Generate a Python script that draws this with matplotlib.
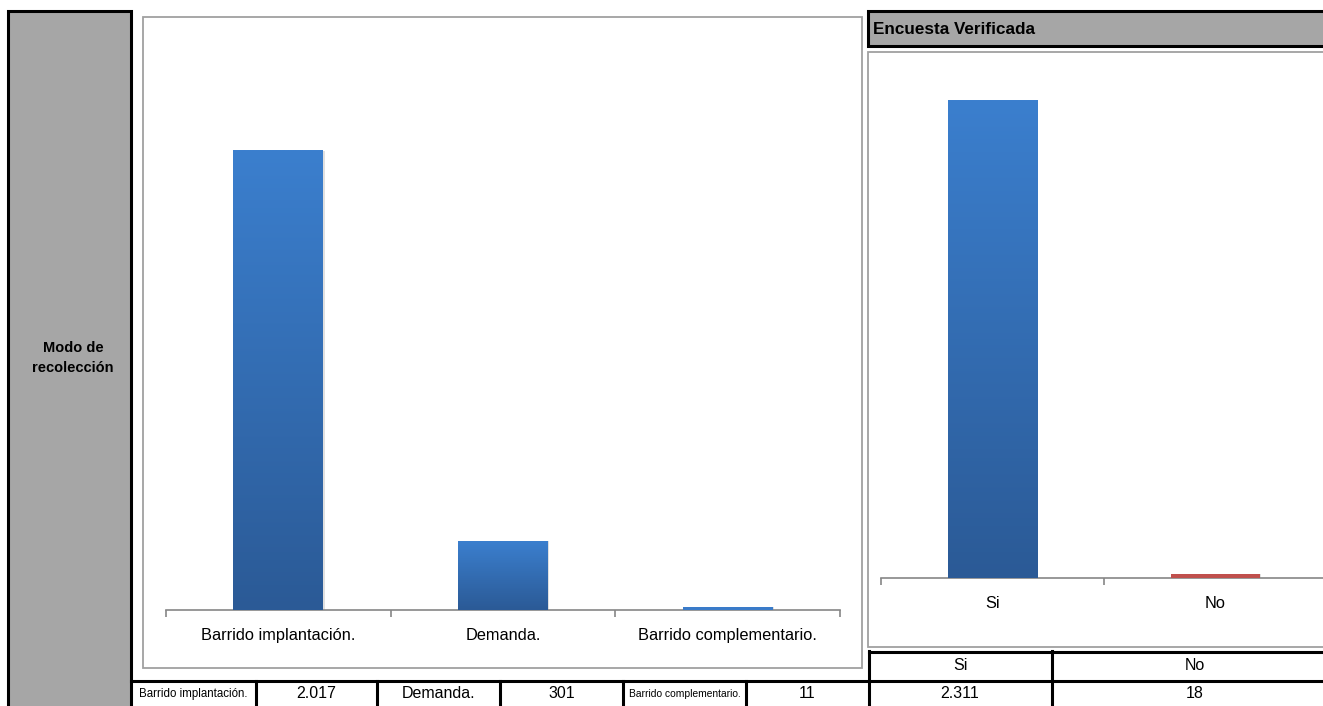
import matplotlib.pyplot as plt
import numpy as np
from matplotlib.patches import Rectangle
from matplotlib.colors import LinearSegmentedColormap

plt.rcParams['font.family'] = ['Liberation Sans', 'DejaVu Sans']

# data
modo_labels = ['Barrido implantación.', 'Demanda.', 'Barrido complementario.']
modo_values = [2017, 301, 11]
modo_table = ['2.017', '301', '11']

verif_labels = ['Si', 'No']
verif_values = [2311, 18]
verif_table = ['2.311', '18']

W, H = 1323, 706
fig = plt.figure(figsize=(W / 100, H / 100), dpi=100)


def fx(x):
    return x / W


def fy(y):
    return 1 - y / H


def box(x0, y0, x1, y1, fc='none', ec='black', lw=2.2, z=1):
    fig.patches.append(Rectangle((fx(x0), fy(y1)), fx(x1) - fx(x0), fy(y0) - fy(y1),
                                 transform=fig.transFigure, facecolor=fc,
                                 edgecolor=ec, linewidth=lw, zorder=z))


def hline(y, x0, x1, lw=2.2):
    fig.add_artist(plt.Line2D([fx(x0), fx(x1)], [fy(y), fy(y)], transform=fig.transFigure,
                              color='black', linewidth=lw))


def vline(x, y0, y1, lw=2.2):
    fig.add_artist(plt.Line2D([fx(x), fx(x)], [fy(y0), fy(y1)], transform=fig.transFigure,
                              color='black', linewidth=lw))


# left label panel
box(8, 11, 131, 710, fc='#A6A6A6')
fig.text(fx(73), fy(358), 'Modo de\nrecolección', ha='center', va='center',
         fontsize=10.5, fontweight='bold', linespacing=1.5)

# chart frames
box(143, 17, 862, 668, fc='white', ec='#A0A0A0', lw=1.3)
box(868, 52, 1330, 647, fc='white', ec='#A0A0A0', lw=1.3)

# header box
box(868, 11, 1330, 46, fc='#A6A6A6')
fig.text(fx(873), fy(29), 'Encuesta Verificada', ha='left', va='center',
         fontsize=12.3, fontweight='bold')

# bottom tables
hline(681, 131, 1323)
vline(869, 651, 710)
hline(651.5, 869, 1323)
vline(1052, 651, 710)
for x in [256, 377, 500, 623, 746]:
    vline(x, 681, 710)

cells = [131, 256, 377, 500, 623, 746, 869]
row_texts = [modo_labels[0], modo_table[0], modo_labels[1], modo_table[1],
             modo_labels[2], modo_table[2]]
row_sizes = [8.3, 11.5, 11.5, 11.5, 7.4, 11.5]
for i, t in enumerate(row_texts):
    cx = (cells[i] + cells[i + 1]) / 2
    fig.text(fx(cx), fy(694), t, ha='center', va='center', fontsize=row_sizes[i])

vcenters = [960, 1195]
for i in range(2):
    fig.text(fx(vcenters[i]), fy(666), verif_labels[i], ha='center', va='center', fontsize=11.5)
    fig.text(fx(vcenters[i]), fy(694), verif_table[i], ha='center', va='center', fontsize=11.5)

blue_cmap = LinearSegmentedColormap.from_list('b', ['#2B5A96', '#3B7FCE'])


def draw_bars(ax, labels, values, colors, gradient):
    x = np.arange(len(labels))
    bars = ax.bar(x, values, width=0.40, color=colors, zorder=3)
    for b, g in zip(bars, gradient):
        # soft shadow on the right side of each bar
        ax.add_patch(Rectangle((b.get_x() + 0.006, 0), b.get_width(), b.get_height(),
                               facecolor='black', alpha=0.12, edgecolor='none', zorder=2))
        if not g:
            continue
        grad = np.linspace(0, 1, 256).reshape(-1, 1)
        ax.imshow(grad, cmap=blue_cmap, origin='lower', aspect='auto',
                  extent=[b.get_x(), b.get_x() + b.get_width(), 0, b.get_height()],
                  zorder=4)
    ax.set_xlim(-0.5, len(labels) - 0.5)
    ax.set_ylim(0, 2500)
    ax.set_xticks(x)
    ax.set_xticklabels(labels, fontsize=11.8)
    ax.set_xticks(np.arange(len(labels) + 1) - 0.5, minor=True)
    ax.tick_params(axis='x', which='major', length=0, pad=13)
    ax.tick_params(axis='x', which='minor', length=5, color='#868686', width=1.2)
    ax.set_yticks([])
    for s in ['top', 'right', 'left']:
        ax.spines[s].set_visible(False)
    ax.spines['bottom'].set_color('#868686')
    ax.spines['bottom'].set_linewidth(1.2)
    ax.patch.set_alpha(0)
    ax.set_zorder(5)


ax1 = fig.add_axes([fx(166), fy(610), (840 - 166) / W, 569 / H])
draw_bars(ax1, modo_labels, modo_values, ['#3A7BC9'] * 3, [True, True, False])

ax2 = fig.add_axes([fx(881), fy(578), (1327 - 881) / W, 517 / H])
draw_bars(ax2, verif_labels, verif_values, ['#3A7BC9', '#C0504D'], [True, False])

fig.savefig('out.png', dpi=100)
